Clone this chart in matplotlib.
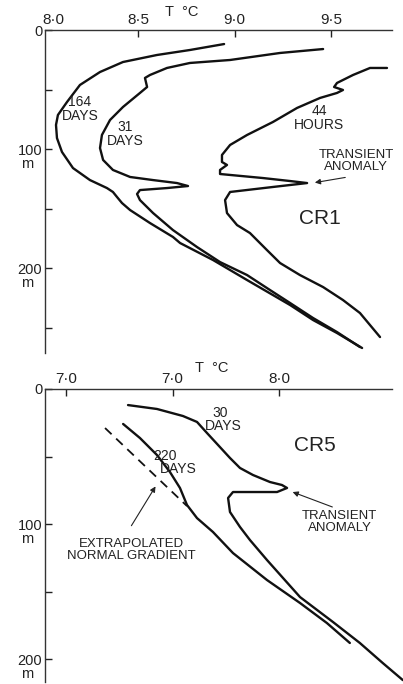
import matplotlib
matplotlib.use("Agg")
import matplotlib.pyplot as plt

plt.rcParams['font.family'] = ['Liberation Sans', 'DejaVu Sans']

# ---------------- CR1 (top panel) data: temperature (°C) vs depth (m) ----------------
cr1_164d_T = [8.946, 8.769, 8.598, 8.422, 8.303, 8.199, 8.132, 8.085, 8.075, 8.080, 8.106,
              8.163, 8.251, 8.339, 8.370, 8.391, 8.417, 8.459, 8.562, 8.681, 8.718, 8.889,
              9.065, 9.199, 9.288, 9.407, 9.531, 9.661]
cr1_164d_D = [11.8, 16.8, 21.0, 26.9, 35.3, 46.2, 60.5, 71.4, 79.8, 90.8, 102.5,
              116.0, 126.1, 132.8, 136.1, 140.3, 145.4, 151.3, 162.2, 173.9, 179.0, 193.3,
              210.1, 222.7, 231.1, 243.7, 254.6, 267.2]

cr1_31d_T = [9.459, 9.236, 8.977, 8.769, 8.650, 8.562, 8.536, 8.547, 8.510, 8.422, 8.355,
             8.313, 8.303, 8.319, 8.370, 8.459, 8.578, 8.702, 8.759, 8.650, 8.510, 8.495,
             8.510, 8.578, 8.681, 8.806, 8.925, 9.065, 9.184, 9.288, 9.407, 9.531, 9.650]
cr1_31d_D = [16.0, 19.3, 25.2, 27.7, 31.9, 37.8, 40.3, 47.9, 52.9, 64.7, 75.6,
             88.2, 99.2, 109.2, 117.6, 123.5, 126.1, 128.6, 131.1, 132.8, 134.5, 137.8,
             142.9, 153.8, 168.1, 182.4, 195.0, 205.9, 218.5, 229.4, 242.0, 253.8, 266.4]

cr1_44h_T = [9.790, 9.702, 9.614, 9.531, 9.516, 9.562, 9.531, 9.443, 9.324, 9.199, 9.065,
             8.977, 8.935, 8.935, 8.961, 8.925, 8.925, 9.148, 9.288, 9.376, 9.199, 8.977,
             8.951, 8.961, 9.013, 9.080, 9.168, 9.236, 9.339, 9.459, 9.562, 9.650, 9.754]
cr1_44h_D = [31.9, 31.9, 37.8, 44.5, 47.9, 50.4, 52.9, 57.1, 65.5, 77.3, 88.2,
             96.6, 105.0, 110.9, 113.4, 117.6, 121.0, 124.4, 126.9, 128.6, 131.9, 136.1,
             142.9, 153.8, 163.9, 170.6, 184.9, 195.8, 205.9, 216.0, 226.9, 237.8, 258.0]

# ---------------- CR5 (bottom panel) data ----------------
cr5_30d_T = [7.291, 7.427, 7.549, 7.615, 7.662, 7.714, 7.770, 7.817, 7.878, 7.958, 8.014,
             8.038, 7.991, 7.784, 7.761, 7.770, 7.817, 7.864, 7.944, 8.099, 8.254, 8.380,
             8.488, 8.582]
cr5_30d_D = [11.9, 14.8, 20.0, 24.4, 32.6, 41.5, 51.1, 58.5, 63.7, 68.9, 71.1,
             73.3, 76.3, 76.3, 80.7, 91.1, 102.2, 111.9, 126.7, 154.1, 172.6, 188.1,
             203.0, 215.6]

cr5_220d_T = [7.268, 7.347, 7.427, 7.488, 7.535, 7.568, 7.615, 7.690, 7.784, 7.944, 8.099,
              8.225, 8.333]
cr5_220d_D = [25.9, 36.3, 48.9, 61.5, 73.3, 85.9, 95.6, 105.9, 121.5, 141.5, 158.5,
              173.3, 188.1]

cr5_extrap_T = [7.183, 7.568]
cr5_extrap_D = [28.9, 86.7]

# tick labels
top_xticks = [8.5, 9.0, 9.5]
top_xlabels = ['8·5', '9·0', '9·5']
bot_xticks = [7.0, 7.5, 8.0]
bot_xlabels = ['7·0', '7·0', '8·0']

W, H = 403, 684
fig = plt.figure(figsize=(W / 100, H / 100), dpi=100)

ax1 = fig.add_axes([45 / W, 1 - 353 / H, (392 - 45) / W, (353 - 30) / H])
ax2 = fig.add_axes([45 / W, 1 - 682 / H, (392 - 45) / W, (682 - 389) / H])

lw = 1.7
col = '#111111'


def style(ax, xlim, ylim, xt, xl, ymax_minor):
    ax.set_xlim(*xlim)
    ax.set_ylim(*ylim)
    for s in ['right', 'bottom']:
        ax.spines[s].set_visible(False)
    for s in ['top', 'left']:
        ax.spines[s].set_linewidth(1.0)
        ax.spines[s].set_color('#333333')
    ax.xaxis.tick_top()
    ax.set_xticks(xt)
    ax.set_xticklabels(xl)
    ax.set_yticks([0, 100, 200])
    ax.set_yticklabels(['0', '100', '200'])
    ax.set_yticks([m for m in [50, 150, 250] if m < ymax_minor], minor=True)
    ax.tick_params(axis='x', direction='in', length=5, width=1.0, pad=2,
                   labelsize=11, colors='#222222', top=True, bottom=False)
    ax.tick_params(axis='y', which='both', direction='in', length=5, width=1.0,
                   pad=2, labelsize=10.5, colors='#222222')
    for yv in [100, 200]:
        ax.annotate('m', xy=(0, yv), xycoords=('axes fraction', 'data'),
                    xytext=(-13, -11), textcoords='offset points', ha='center',
                    va='center', fontsize=10.5, color='#222222')


style(ax1, (8.018, 9.816), (271.4, 0), top_xticks, top_xlabels, 271)
style(ax2, (6.901, 8.531), (217, 0), bot_xticks, bot_xlabels, 217)

# extra 8·0 label in top panel
ax1.annotate('8·0', xy=(8.06, 0), xycoords='data', xytext=(0, 2),
             textcoords='offset points', ha='center', va='bottom', fontsize=11,
             color='#222222', annotation_clip=False)

# curves
for T, D in [(cr1_164d_T, cr1_164d_D), (cr1_31d_T, cr1_31d_D), (cr1_44h_T, cr1_44h_D)]:
    ax1.plot(T, D, color=col, lw=lw, clip_on=False, solid_joinstyle='round',
             solid_capstyle='round')
for T, D in [(cr5_30d_T, cr5_30d_D), (cr5_220d_T, cr5_220d_D)]:
    ax2.plot(T, D, color=col, lw=lw, clip_on=False, solid_joinstyle='round',
             solid_capstyle='round')
ax2.plot(cr5_extrap_T, cr5_extrap_D, color=col, lw=1.3, ls=(0, (5, 3.5)))

tc = '#222222'
fs = 10
# top panel texts
ax1.text(8.728, -15.1, 'T  °C', ha='center', va='center', fontsize=10.5, color=tc, clip_on=False)
ax1.text(8.199, 66.4, '164\nDAYS', ha='center', va='center', fontsize=fs, color=tc, linespacing=0.95)
ax1.text(8.433, 87.4, '31\nDAYS', ha='center', va='center', fontsize=fs, color=tc, linespacing=0.95)
ax1.text(9.438, 73.9, '44\nHOURS', ha='center', va='center', fontsize=fs, color=tc, linespacing=0.95)
ax1.text(9.630, 110.1, 'TRANSIENT\nANOMALY', ha='center', va='center', fontsize=9.5,
         color=tc, linespacing=1.0)
ax1.annotate('', xy=(9.402, 128.6), xytext=(9.588, 123.5),
             arrowprops=dict(arrowstyle='-|>', color=tc, lw=0.8, mutation_scale=8))
ax1.text(9.443, 158, 'CR1', ha='center', va='center', fontsize=15, color=tc)

# bottom panel texts
ax2.text(7.685, -15.6, 'T  °C', ha='center', va='center', fontsize=10.5, color=tc, clip_on=False)
ax2.text(7.723, 17.8, '30', ha='center', va='center', fontsize=fs, color=tc)
ax2.text(7.737, 27.4, 'DAYS', ha='center', va='center', fontsize=fs, color=tc)
ax2.text(7.465, 49.6, '220', ha='center', va='center', fontsize=fs, color=tc)
ax2.text(7.526, 59.3, 'DAYS', ha='center', va='center', fontsize=fs, color=tc)
ax2.text(8.169, 42.2, 'CR5', ha='center', va='center', fontsize=15, color=tc)
ax2.text(8.286, 98.5, 'TRANSIENT\nANOMALY', ha='center', va='center', fontsize=9.5,
         color=tc, linespacing=1.0)
ax2.annotate('', xy=(8.052, 75.6), xytext=(8.263, 88.1),
             arrowprops=dict(arrowstyle='-|>', color=tc, lw=0.8, mutation_scale=8))
ax2.text(7.305, 119.3, 'EXTRAPOLATED\nNORMAL GRADIENT', ha='center', va='center',
         fontsize=9.5, color=tc, linespacing=1.0)
ax2.annotate('', xy=(7.427, 70.4), xytext=(7.300, 103),
             arrowprops=dict(arrowstyle='-|>', color=tc, lw=0.8, mutation_scale=8))

fig.savefig('out.png', dpi=100)
